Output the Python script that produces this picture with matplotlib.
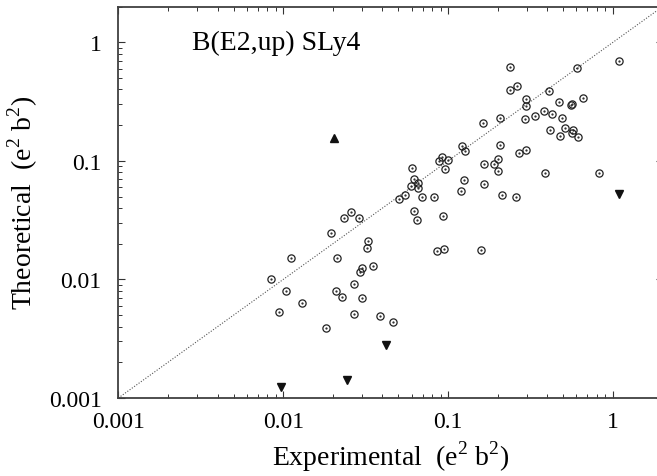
import matplotlib
matplotlib.use("Agg")
import matplotlib.pyplot as plt
from matplotlib.ticker import FixedLocator, FixedFormatter, LogLocator, NullFormatter

# B(E2,up) experimental vs SLy4 theoretical, e^2 b^2
exp_vals = [0.00848, 0.0112, 0.0104, 0.00948, 0.0130, 0.0195, 0.0213, 0.0210, 0.0228, 0.0181,
            0.0269, 0.0269, 0.0300, 0.0294, 0.0300, 0.0326, 0.0323, 0.0350, 0.0387, 0.0466,
            0.0233, 0.0259, 0.0289, 0.0505, 0.0547, 0.0606, 0.0617, 0.0597, 0.0659, 0.0661,
            0.0690, 0.0617, 0.0647, 0.0823, 0.0930, 0.0879, 0.0917, 0.0997, 0.0964, 0.121,
            0.127, 0.162, 0.165, 0.124, 0.119, 0.165, 0.0862, 0.0943, 0.159, 0.211,
            0.258, 0.238, 0.607, 1.09, 0.238, 0.260, 0.407, 0.297, 0.298, 0.470,
            0.559, 0.564, 0.654, 0.207, 0.292, 0.338, 0.379, 0.424, 0.488, 0.416,
            0.477, 0.509, 0.574, 0.561, 0.616, 0.207, 0.270, 0.298, 0.190, 0.201,
            0.201, 0.385, 0.818]
th_vals = [0.0100, 0.0152, 0.00804, 0.00531, 0.00633, 0.0245, 0.0152, 0.00804, 0.00715, 0.00392,
           0.00915, 0.00511, 0.0124, 0.0116, 0.00697, 0.0210, 0.0184, 0.0129, 0.00489, 0.00435,
           0.0332, 0.0373, 0.0330, 0.0480, 0.0512, 0.0866, 0.0703, 0.0614, 0.0647, 0.0590,
           0.0499, 0.0376, 0.0317, 0.0493, 0.0343, 0.100, 0.107, 0.102, 0.0854, 0.134,
           0.122, 0.210, 0.0941, 0.0686, 0.0557, 0.0638, 0.0175, 0.0182, 0.0176, 0.0518,
           0.0496, 0.615, 0.607, 0.691, 0.398, 0.428, 0.386, 0.331, 0.292, 0.316,
           0.296, 0.300, 0.341, 0.229, 0.224, 0.240, 0.263, 0.248, 0.230, 0.182,
           0.163, 0.188, 0.183, 0.172, 0.159, 0.137, 0.116, 0.124, 0.0946, 0.104,
           0.0817, 0.0795, 0.0790]

# limits (triangles)
down_exp = [0.00967, 0.0242, 0.0421, 1.08]
down_th = [0.00125, 0.00141, 0.00281, 0.0525]
up_exp = [0.0202]
up_th = [0.155]

ticks = [0.001, 0.01, 0.1, 1]
tick_labels = ["0.001", "0.01", "0.1", "1"]

plt.rcParams["font.family"] = ["Liberation Serif", "DejaVu Serif"]
plt.rcParams["mathtext.fontset"] = "custom"
plt.rcParams["mathtext.rm"] = "Liberation Serif"

fig = plt.figure(figsize=(6.57, 4.77), dpi=100)
ax = fig.add_axes([0.1801, 0.1635, 0.8285, 0.8206])
ax.set_xscale("log")
ax.set_yscale("log")
ax.set_xlim(0.001, 2)
ax.set_ylim(0.001, 2)

ax.plot([0.001, 2], [0.001, 2], ls=(0, (1, 1.5)), color="#555555", lw=0.8)

ax.plot(exp_vals, th_vals, ls="none", marker="o", ms=5.2, mfc="none", mec="#222222", mew=0.9)
ax.plot(exp_vals, th_vals, ls="none", marker=".", ms=1.2, color="#222222")
ax.plot(down_exp, down_th, ls="none", marker="v", ms=6, color="#111111")
ax.plot(up_exp, up_th, ls="none", marker="^", ms=6, color="#111111")

ax.text(0.0028, 1.0, "B(E2,up) SLy4", fontsize=20, ha="left", va="center")

for a in (ax.xaxis, ax.yaxis):
    a.set_major_locator(FixedLocator(ticks))
    a.set_major_formatter(FixedFormatter(tick_labels))
    a.set_minor_locator(LogLocator(base=10, subs=range(2, 10)))
    a.set_minor_formatter(NullFormatter())

ax.tick_params(which="both", direction="in", top=True, right=True, color="#333333")
ax.tick_params(which="major", length=5, width=0.8, labelsize=17)
ax.tick_params(which="minor", length=3, width=0.7)
ax.tick_params(axis="x", which="major", pad=9)
ax.tick_params(axis="y", which="major", pad=12)

for s in ax.spines.values():
    s.set_color("#404040")
    s.set_linewidth(1.3)

ax.set_xlabel(r"Experimental  (e$^2$ b$^2$)", fontsize=20, labelpad=5)
ax.set_ylabel(r"Theoretical  (e$^2$ b$^2$)", fontsize=20, labelpad=6)

fig.savefig("out.png", dpi=100)
